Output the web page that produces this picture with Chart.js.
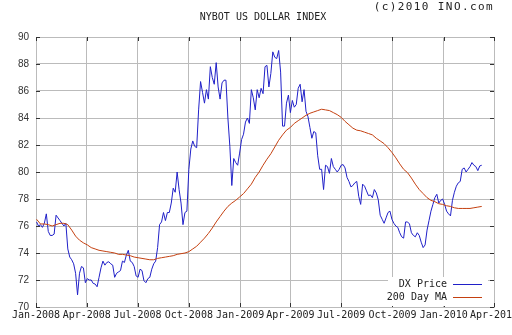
<!DOCTYPE html>
<html>
<head>
<meta charset="utf-8">
<script src="https://cdn.jsdelivr.net/npm/chart.js@4.4.0/dist/chart.umd.min.js"></script>
<style>
  html, body { margin: 0; padding: 0; background: #fff; }
  canvas { display: block; }
</style>
</head>
<body>
<canvas id="dxChart" width="512" height="335"></canvas>
<script>
// quarter ticks, in days since 1 Jan 2008
var quarterDays = [0, 91, 182, 274, 366, 456, 547, 639, 731, 821];
var quarterLabels = ['Jan-2008', 'Apr-2008', 'Jul-2008', 'Oct-2008', 'Jan-2009',
                     'Apr-2009', 'Jul-2009', 'Oct-2009', 'Jan-2010', 'Apr-2010'];
var yTicks = [70, 72, 74, 76, 78, 80, 82, 84, 86, 88, 90];

// readings start on 2 Jan 2008; price read twice a week, MA once a week
var firstDay = 1;
var priceStepDays = 3.5;
var maStepDays = 7;

var dxPrice = [
  76.3, 76.0, 76.1, 75.9, 76.2, 76.9, 75.6, 75.3, 75.3, 75.4,
  76.8, 76.6, 76.4, 76.2, 76.0, 76.2, 74.3, 73.7, 73.5, 73.2,
  72.5, 70.9, 72.5, 73.0, 72.9, 71.8, 72.1, 72.0, 72.0, 71.75,
  71.7, 71.5, 72.2, 72.9, 73.4, 73.1, 73.3, 73.35, 73.2, 73.1,
  72.2, 72.5, 72.6, 72.7, 73.4, 73.3, 73.85, 74.2, 73.4, 73.3,
  73.0, 72.3, 72.2, 72.8, 72.7, 71.95, 71.8, 72.1, 72.2, 72.8,
  73.2, 73.4, 74.4, 76.1, 76.3, 77.0, 76.4, 77.0, 77.0, 77.7,
  78.8, 78.5, 80.0, 78.7, 77.7, 76.1, 77.0, 77.1, 80.2, 81.7,
  82.3, 81.9, 81.8, 84.6, 86.7, 85.9, 85.1, 86.1, 85.4, 87.8,
  87.0, 86.5, 88.1, 86.3, 85.4, 86.6, 86.8, 86.8, 84.0, 81.9,
  79.0, 81.0, 80.7, 80.5, 81.4, 82.4, 82.8, 83.7, 84.0, 83.6,
  86.1, 85.5, 84.6, 86.1, 85.5, 86.2, 85.8, 87.8, 87.9, 86.3,
  87.3, 88.9, 88.5, 88.4, 89.0, 87.4, 83.4, 83.4, 85.1, 85.7,
  84.4, 85.3, 84.8, 85.0, 86.2, 86.5, 85.2, 86.1, 84.5, 84.1,
  83.3, 82.5, 83.0, 82.9, 81.2, 80.2, 80.2, 78.7, 80.5, 80.4,
  79.9, 81.0, 80.4, 80.2, 80.0, 80.2, 80.5, 80.55, 80.3, 79.6,
  79.3, 78.9, 79.0, 79.2, 79.3, 78.2, 77.6, 79.1, 78.95, 78.6,
  78.25, 78.3, 78.1, 78.7, 78.45, 77.95, 76.8, 76.5, 76.2, 76.6,
  77.0, 77.1, 76.5, 76.2, 76.0, 75.9, 75.5, 75.2, 75.1, 76.3,
  76.3, 76.15, 75.5, 75.3, 75.2, 75.5, 75.3, 74.8, 74.4, 74.6,
  75.7, 76.4, 77.1, 77.6, 78.1, 78.35, 77.7, 77.9, 78.0, 77.6,
  77.1, 76.9, 76.75, 77.9, 78.5, 78.95, 79.2, 79.3, 80.2, 80.3,
  80.0, 80.2, 80.4, 80.7, 80.5, 80.4, 80.1, 80.45, 80.5
];

var ma200 = [
  76.5, 76.15, 76.15, 76.1, 76.0, 76.1, 76.2, 76.2, 76.1, 75.7,
  75.25, 74.95, 74.75, 74.6, 74.4, 74.3, 74.2, 74.15, 74.1, 74.05,
  74.0, 73.9, 73.9, 73.85, 73.8, 73.7, 73.65, 73.6, 73.55, 73.5,
  73.5, 73.6, 73.65, 73.7, 73.75, 73.8, 73.9, 73.95, 74.0, 74.1,
  74.3, 74.5, 74.8, 75.1, 75.45, 75.85, 76.3, 76.7, 77.1, 77.45,
  77.7, 77.9, 78.15, 78.4, 78.75, 79.1, 79.6, 80.0, 80.5, 80.95,
  81.35, 81.85, 82.35, 82.75, 83.1, 83.3, 83.6, 83.8, 84.0, 84.2,
  84.35, 84.45, 84.55, 84.65, 84.6, 84.55, 84.4, 84.25, 84.05, 83.75,
  83.5, 83.25, 83.1, 83.05, 82.95, 82.85, 82.75, 82.5, 82.3, 82.1,
  81.8, 81.45, 81.05, 80.6, 80.2, 79.95, 79.55, 79.1, 78.7, 78.4,
  78.1, 77.9, 77.8, 77.65, 77.6, 77.5, 77.45, 77.35, 77.3, 77.3,
  77.3, 77.3, 77.35, 77.4, 77.45
];

var priceColor = '#2020c8';
var maColor = '#c44010';

function toPoints(vals, step) {
  return vals.map(function (v, i) { return { x: firstDay + i * step, y: v }; });
}

// frame ticks, title, copyright and the legend box
var inoDecor = {
  id: 'inoDecor',
  afterDraw: function (chart) {
    var ctx = chart.ctx;
    var a = chart.chartArea;
    var xs = chart.scales.x, ys = chart.scales.y;
    ctx.save();

    ctx.strokeStyle = '#333';
    ctx.lineWidth = 1;
    ctx.beginPath();
    quarterDays.forEach(function (d) {
      var px = Math.round(xs.getPixelForValue(d)) + 0.5;
      ctx.moveTo(px, a.top); ctx.lineTo(px, a.top + 4);
      ctx.moveTo(px, a.bottom); ctx.lineTo(px, a.bottom - 4);
    });
    yTicks.forEach(function (v) {
      var py = Math.round(ys.getPixelForValue(v)) + 0.5;
      ctx.moveTo(a.left, py); ctx.lineTo(a.left + 4, py);
      ctx.moveTo(a.right, py); ctx.lineTo(a.right - 4, py);
    });
    ctx.stroke();

    ctx.fillStyle = '#222';
    ctx.font = '10px "DejaVu Sans Mono"';
    ctx.textAlign = 'center';
    ctx.textBaseline = 'middle';
    ctx.fillText('NYBOT US DOLLAR INDEX', 263, 17);
    ctx.textAlign = 'right';
    ctx.font = '11px "DejaVu Sans Mono"';
    ctx.letterSpacing = '1.4px';
    ctx.fillText('(c)2010 INO.com', 494, 7);
    ctx.letterSpacing = '0px';

    // legend
    var bx = a.right - 106, by = a.bottom - 30;
    ctx.fillStyle = '#fff';
    ctx.fillRect(bx, by, 100, 29);
    ctx.font = '10px "DejaVu Sans Mono"';
    ctx.fillStyle = '#222';
    ctx.textAlign = 'right';
    ctx.fillText('DX Price', a.right - 47, by + 7.5);
    ctx.fillText('200 Day MA', a.right - 47, by + 20);
    ctx.beginPath();
    ctx.strokeStyle = priceColor;
    ctx.moveTo(a.right - 41, by + 7.5); ctx.lineTo(a.right - 12, by + 7.5);
    ctx.stroke();
    ctx.beginPath();
    ctx.strokeStyle = maColor;
    ctx.moveTo(a.right - 41, by + 20.5); ctx.lineTo(a.right - 12, by + 20.5);
    ctx.stroke();

    ctx.restore();
  }
};

var chart = new Chart(document.getElementById('dxChart'), {
  type: 'line',
  data: {
    datasets: [{
      label: 'DX Price',
      data: toPoints(dxPrice, priceStepDays),
      borderColor: priceColor,
      borderWidth: 1,
      pointRadius: 0,
      tension: 0,
      order: 1
    }, {
      label: '200 Day MA',
      data: toPoints(ma200, maStepDays),
      borderColor: maColor,
      borderWidth: 1,
      pointRadius: 0,
      tension: 0,
      order: 0
    }]
  },
  options: {
    responsive: false,
    animation: false,
    devicePixelRatio: 1,
    layout: { padding: { top: 37, right: 18, bottom: 0, left: 0 } },
    plugins: {
      legend: { display: false },
      title: { display: false },
      tooltip: { enabled: false }
    },
    scales: {
      x: {
        type: 'linear',
        min: 0,
        max: 821,
        afterBuildTicks: function (scale) {
          scale.ticks = quarterDays.map(function (d) { return { value: d }; });
        },
        afterFit: function (scale) {
          scale.height = 28;
          scale.paddingLeft = 0;
          scale.paddingRight = 0;
        },
        ticks: {
          autoSkip: false,
          maxRotation: 0,
          padding: 2,
          color: '#222',
          font: { family: 'DejaVu Sans Mono', size: 10 },
          callback: function (v) {
            var k = quarterDays.indexOf(v);
            return k >= 0 ? quarterLabels[k] : '';
          }
        },
        grid: { color: '#bbbbbb', lineWidth: 1, drawTicks: false },
        border: { color: '#bbbbbb' }
      },
      y: {
        min: 70,
        max: 90,
        afterBuildTicks: function (scale) {
          scale.ticks = yTicks.map(function (v) { return { value: v }; });
        },
        afterFit: function (scale) {
          scale.width = 36;
        },
        ticks: {
          padding: 7,
          color: '#333',
          font: { family: 'Liberation Sans', size: 10 }
        },
        grid: { color: '#bbbbbb', lineWidth: 1, drawTicks: false },
        border: { color: '#bbbbbb' }
      }
    }
  },
  plugins: [inoDecor]
});
</script>
</body>
</html>
